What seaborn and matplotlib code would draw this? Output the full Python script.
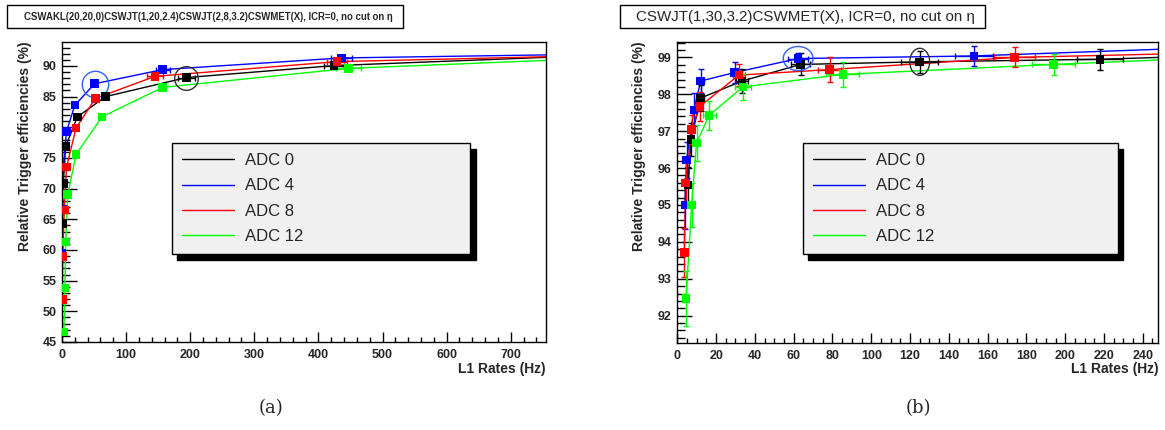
import numpy as np
import pandas as pd
import matplotlib
matplotlib.use("Agg")
import matplotlib.pyplot as plt
import seaborn as sns
from matplotlib.lines import Line2D
from matplotlib.patches import Ellipse, Rectangle

sns.set_style("ticks")
plt.rcParams['font.family'] = ['Liberation Sans', 'DejaVu Sans']

series = ["ADC 0", "ADC 4", "ADC 8", "ADC 12"]
colors = {"ADC 0": "#000000", "ADC 4": "#0000ff", "ADC 8": "#ff0000", "ADC 12": "#00ff00"}

# ---------------- panel (a) data ----------------
a_x = {
    "ADC 0": [0.5, 2, 5.7, 24, 68, 194, 424],
    "ADC 4": [0.3, 0.5, 2, 7, 20, 51, 157, 436],
    "ADC 8": [0.5, 1, 3.6, 7, 22, 52, 145, 429],
    "ADC 12": [3, 4.6, 5.7, 9, 22, 62.5, 157, 447],
}
a_y = {
    "ADC 0": [64.3, 70.8, 76.9, 81.7, 85.0, 88.1, 90.05],
    "ADC 4": [59.4, 66.6, 73.5, 79.3, 83.6, 87.1, 89.4, 91.3],
    "ADC 8": [51.9, 58.9, 66.5, 73.5, 79.9, 84.7, 88.3, 90.7],
    "ADC 12": [46.6, 53.8, 61.3, 69.0, 75.6, 81.7, 86.5, 89.6],
}
a_xerr = {
    "ADC 0": [0.3, 0.5, 1, 2, 3, 13, 16],
    "ADC 4": [0.2, 0.3, 0.5, 1, 2, 3, 11, 16],
    "ADC 8": [0.3, 0.3, 0.6, 1, 2, 3, 12, 15],
    "ADC 12": [0.5, 0.6, 0.8, 1, 2, 3, 6, 20],
}
a_tail_x = 755
a_tail_y = {"ADC 0": 91.4, "ADC 4": 91.8, "ADC 8": 91.5, "ADC 12": 90.9}

# ---------------- panel (b) data ----------------
b_x = {
    "ADC 0": [5.6, 7.0, 12.1, 33.4, 63.6, 125, 218],
    "ADC 4": [3.9, 4.8, 8.5, 12.1, 29.5, 62.3, 153],
    "ADC 8": [3.6, 4.3, 7.4, 11.6, 31.7, 78.5, 174],
    "ADC 12": [4.5, 7.4, 9.9, 16.4, 33.8, 85.4, 194],
}
b_y = {
    "ADC 0": [95.54, 96.77, 97.90, 98.36, 98.81, 98.88, 98.95],
    "ADC 4": [95.0, 96.22, 97.58, 98.36, 98.59, 98.97, 99.04],
    "ADC 8": [93.71, 95.59, 97.04, 97.67, 98.52, 98.67, 99.0],
    "ADC 12": [92.46, 95.0, 96.68, 97.43, 98.2, 98.54, 98.81],
}
b_xerr = {
    "ADC 0": [0.8, 1.0, 1.5, 3, 5, 9.6, 12],
    "ADC 4": [0.6, 0.7, 1.0, 1.5, 2, 5, 10],
    "ADC 8": [0.6, 0.7, 1.0, 1.5, 3, 6, 10.6],
    "ADC 12": [0.8, 1.2, 1.5, 3.4, 4, 8.5, 11],
}
b_yerr = {
    "ADC 0": [0.5, 0.45, 0.35, 0.33, 0.3, 0.3, 0.28],
    "ADC 4": [0.65, 0.5, 0.45, 0.32, 0.29, 0.15, 0.28],
    "ADC 8": [0.66, 0.6, 0.4, 0.4, 0.3, 0.33, 0.27],
    "ADC 12": [0.75, 0.6, 0.5, 0.4, 0.35, 0.34, 0.29],
}
b_tail_x = 248
b_tail_y = {"ADC 0": 99.0, "ADC 4": 99.22, "ADC 8": 99.09, "ADC 12": 98.93}


def long_df(xd, yd, tail_x=None, tail_y=None):
    rows = []
    for s in series:
        for x, y in zip(xd[s], yd[s]):
            rows.append((s, x, y))
        if tail_x is not None:
            rows.append((s, tail_x, tail_y[s]))
    return pd.DataFrame(rows, columns=["series", "rate", "eff"])


W, H = 1165, 430
fig = plt.figure(figsize=(W / 100, H / 100), dpi=100)
axA = fig.add_axes([62 / W, 1 - 342 / H, 484 / W, 300 / H])
axB = fig.add_axes([677.3 / W, 1 - 343.3 / H, 481 / W, 301 / H])


def draw(ax, xd, yd, xerr, yerr, tail_x, tail_y):
    dl = long_df(xd, yd, tail_x, tail_y)
    dm = long_df(xd, yd)
    sns.lineplot(data=dl, x="rate", y="eff", hue="series", palette=colors,
                 sort=False, estimator=None, linewidth=1.0, legend=False, ax=ax)
    for s in series:
        ax.errorbar(xd[s], yd[s], xerr=xerr[s],
                    yerr=(yerr[s] if yerr is not None else None),
                    fmt="none", ecolor=colors[s], elinewidth=1.0, capsize=2.5,
                    capthick=1.0)
    sns.scatterplot(data=dm, x="rate", y="eff", hue="series", palette=colors,
                    marker="s", s=38, linewidth=0, legend=False, ax=ax, zorder=5)


draw(axA, a_x, a_y, a_xerr, None, a_tail_x, a_tail_y)
draw(axB, b_x, b_y, b_xerr, b_yerr, b_tail_x, b_tail_y)

# circles
axA.plot([51], [87.1], marker="o", ms=19, mfc="none", mec="#3060ff", mew=1.0)
axA.plot([194], [88.1], marker="o", ms=17, mfc="none", mec="#303030", mew=1.0)
axB.add_patch(Ellipse((62.3, 98.97), width=30 / 1.955, height=24 / 36.75,
                      fill=False, ec="#3060ff", lw=1.0, zorder=6))
axB.add_patch(Ellipse((125, 98.88), width=20 / 1.955, height=27 / 36.75,
                      fill=False, ec="#303030", lw=1.0, zorder=6))

# axes styling
axA.set_xlim(0, 755)
axA.set_ylim(45, 93.9)
axA.set_xticks(np.arange(0, 701, 100))
axA.set_xticks(np.arange(0, 755, 20), minor=True)
axA.set_yticks(np.arange(45, 91, 5))
axA.set_yticks(np.arange(45, 94, 1), minor=True)

axB.set_xlim(0, 248)
axB.set_ylim(91.25, 99.41)
axB.set_xticks(np.arange(0, 241, 20))
axB.set_xticks(np.arange(0, 248, 5), minor=True)
axB.set_yticks(np.arange(92, 100, 1))
axB.set_yticks(np.arange(91.4, 99.41, 0.2), minor=True)

for ax in (axA, axB):
    for sp in ax.spines.values():
        sp.set_linewidth(1.0)
        sp.set_color("black")
    ax.tick_params(axis="both", which="both", direction="in", top=False, right=False,
                   labelsize=9, width=1.0, color="black")
    ax.tick_params(axis="y", which="major", length=11, pad=4)
    ax.tick_params(axis="y", which="minor", length=5.5)
    ax.tick_params(axis="x", which="major", length=7, pad=5)
    ax.tick_params(axis="x", which="minor", length=3.5)
    for lab in ax.get_xticklabels() + ax.get_yticklabels():
        lab.set_fontweight("bold")
    ax.set_ylabel("Relative Trigger efficiencies (%)", fontsize=10, fontweight="bold",
                  ha="right")
    ax.set_xlabel("L1 Rates (Hz)", fontsize=10, fontweight="bold")
    ax.xaxis.label.set_horizontalalignment("right")
    ax.xaxis.label.set_verticalalignment("top")

axA.yaxis.set_label_coords((32 - 62) / 484, (342 - 41) / 300)
axB.yaxis.set_label_coords((646 - 677.3) / 481, (343.3 - 41) / 301)
axA.xaxis.set_label_coords(1.0, (342 - 362) / 300)
axB.xaxis.set_label_coords(1.0, (343.3 - 362) / 301)

handles = [Line2D([0], [0], color=colors[s], lw=1.0) for s in series]


def add_legend(ax, x0, y0, w, h):
    leg = ax.legend(handles, series, loc="upper left", bbox_to_anchor=(x0, y0 + h, w, 0),
                    mode="expand", frameon=True, fancybox=False,
                    shadow={"color": "black", "alpha": 1.0, "ox": 4, "oy": -4},
                    facecolor="#f0f0f0", edgecolor="black", framealpha=1,
                    fontsize=12, handlelength=3.1, handletextpad=0.7,
                    labelspacing=0.62, borderpad=0.6, borderaxespad=0)
    leg.get_frame().set_linewidth(1.0)
    return leg


add_legend(axA, 0.227, 0.29, 0.616, 0.373)
add_legend(axB, 0.261, 0.293, 0.655, 0.372)

# titles in boxes
fig.add_artist(Rectangle((7 / W, 1 - 28 / H), 396 / W, 23 / H, transform=fig.transFigure,
                         fc="white", ec="black", lw=1.0))
fig.text(24 / W, 1 - 16.5 / H,
         "CSWAKL(20,20,0)CSWJT(1,20,2.4)CSWJT(2,8,3.2)CSWMET(X), ICR=0, no cut on η",
         fontsize=6.9, fontweight="bold", va="center", ha="left")
fig.add_artist(Rectangle((620 / W, 1 - 28 / H), 365 / W, 23 / H, transform=fig.transFigure,
                         fc="white", ec="black", lw=1.0))
fig.text(636 / W, 1 - 16.5 / H,
         "CSWJT(1,30,3.2)CSWMET(X), ICR=0, no cut on η",
         fontsize=10.9, va="center", ha="left")

fig.text(271 / W, 1 - 408 / H, "(a)", fontsize=13, family="DejaVu Serif",
         ha="center", va="center")
fig.text(918 / W, 1 - 408 / H, "(b)", fontsize=13, family="DejaVu Serif",
         ha="center", va="center")

fig.savefig("out.png", dpi=100)
